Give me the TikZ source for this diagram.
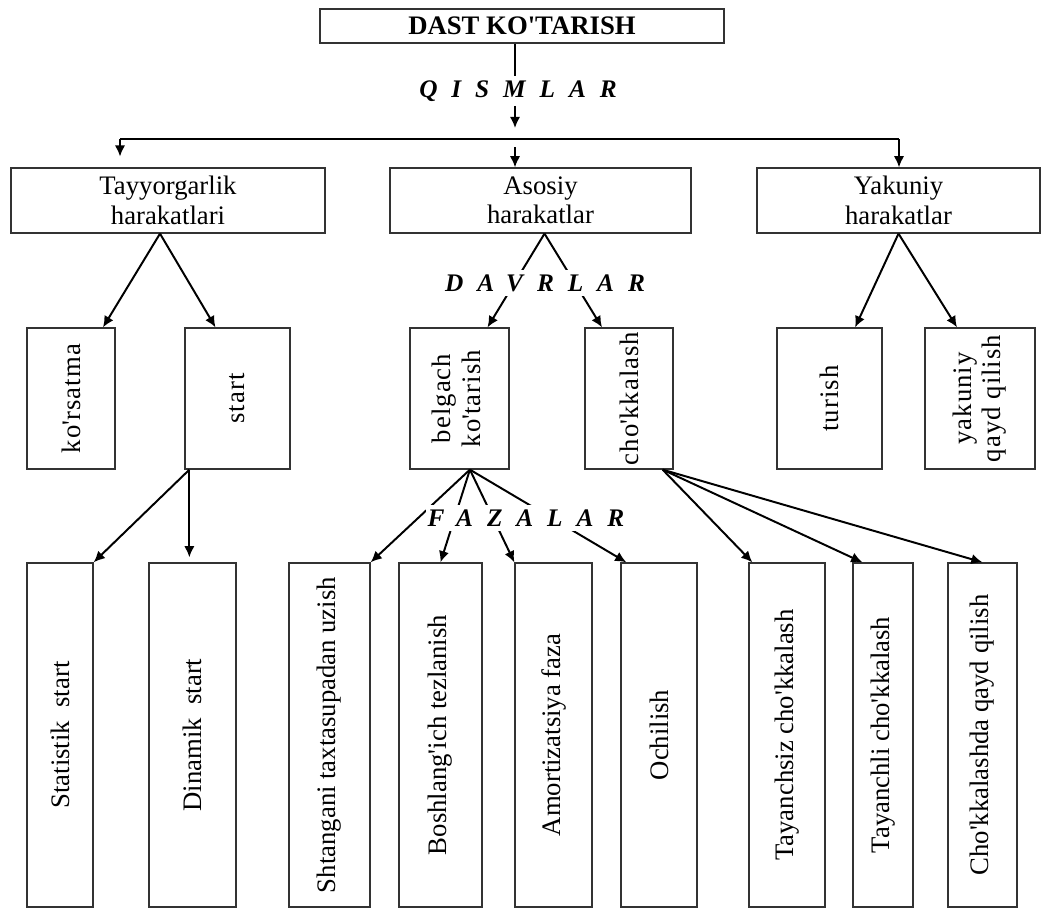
\documentclass[tikz,border=0pt]{standalone}
\usepackage{fontspec}
\setmainfont{Liberation Serif}
\newfontfamily\spacedfont{Liberation Serif}[LetterSpace=55]
\newfontfamily\widefont{Liberation Serif}[LetterSpace=4]
\usepackage{graphicx}
\usetikzlibrary{arrows.meta}

\begin{document}
\begin{tikzpicture}[x=0.025cm, y=-0.025cm, >={Latex[length=0.28cm,width=0.26cm]},
  box/.style={draw=black!80, line width=0.9pt, inner sep=0pt, align=center, font=\fontsize{19}{21}\selectfont},
  wbox/.style={box, font=\widefont\fontsize{19}{21}\selectfont},
  link/.style={->, line width=1.4pt},
  tag/.style={font=\spacedfont\bfseries\itshape\fontsize{18}{18}\selectfont, fill=white, inner xsep=1pt, inner ysep=3pt}]
\useasboundingbox (0,0) rectangle (1044,908);
%top
\node[box, minimum width=10.1cm, minimum height=0.85cm] (top) at (522,26) {\bfseries DAST KO\textquotesingle TARISH};
\node[tag] (qism) at (518,91) {QISMLAR};
\coordinate (qtip) at (515,128);
\draw[line width=1.4pt] (top.south -| qtip) -- (qtip |- qism.north);
\draw[link] (qtip |- qism.south) -- (qtip);
%parts
\node[box, minimum width=7.85cm, minimum height=1.625cm] (tay) at (168,200.5) {Tayyorgarlik\\harakatlari};
\node[box, minimum width=7.525cm, minimum height=1.625cm] (aso) at (540.5,200.5) {Asosiy\\harakatlar};
\node[box, minimum width=7.075cm, minimum height=1.625cm] (yak) at (898.5,200.5) {Yakuniy\\harakatlar};
\coordinate (j1) at (120,139);
\coordinate (j2) at (515,147);
\coordinate (j3) at (899,139);
\draw[line width=1.4pt] (j1) -- (j3);
\draw[link, shorten >=0.27cm] (j1) -- (j1 |- tay.north);
\draw[link] (j2) -- (j2 |- aso.north);
\draw[link] (j3) -- (j3 |- yak.north);
%periods
\node[wbox, minimum width=2.2cm, minimum height=3.525cm] (kor) at (71,398.5) {\rotatebox{90}{ko\textquotesingle rsatma}};
\node[wbox, minimum width=2.625cm, minimum height=3.525cm] (sta) at (237.5,398.5) {\rotatebox{90}{start}};
\node[wbox, minimum width=2.475cm, minimum height=3.525cm] (bel) at (459.5,398.5) {\rotatebox{90}{\begin{tabular}{@{}c@{}}belgach\\ko\textquotesingle tarish\end{tabular}}};
\node[wbox, minimum width=2.2cm, minimum height=3.525cm] (cho) at (629,398.5) {\rotatebox{90}{cho\textquotesingle kkalash}};
\node[wbox, minimum width=2.625cm, minimum height=3.525cm] (tur) at (829.5,398.5) {\rotatebox{90}{turish}};
\node[wbox, minimum width=2.75cm, minimum height=3.525cm] (yqq) at (980,398.5) {\rotatebox{90}{\begin{tabular}{@{}c@{}}yakuniy\\qayd qilish\end{tabular}}};
\draw[link] ([xshift=-0.2cm]tay.south) -- ([xshift=0.8cm]kor.north);
\draw[link] ([xshift=-0.2cm]tay.south) -- ([xshift=-0.55cm]sta.north);
\draw[link] ([xshift=0.1cm]aso.south) -- ([xshift=0.7cm]bel.north);
\draw[link] ([xshift=0.1cm]aso.south) -- ([xshift=-0.675cm]cho.north);
\draw[link] (yak.south) -- ([xshift=0.64cm]tur.north);
\draw[link] (yak.south) -- ([xshift=-0.575cm]yqq.north);
\node[tag] (davr) at (545,283) {DAVRLAR};
%phases
\node[box, minimum width=1.65cm, minimum height=8.6cm] (stat) at (60,735) {\rotatebox{90}{Statistik\ \ start}};
\node[box, minimum width=2.175cm, minimum height=8.6cm] (din) at (192.5,735) {\rotatebox{90}{Dinamik\ \ start}};
\node[box, minimum width=2.025cm, minimum height=8.6cm] (sht) at (329.5,735) {\rotatebox{90}{Shtangani taxtasupadan uzish}};
\node[box, minimum width=2.075cm, minimum height=8.6cm] (bos) at (440.5,735) {\rotatebox{90}{Boshlang\textquotesingle ich tezlanish}};
\node[box, minimum width=1.925cm, minimum height=8.6cm] (amo) at (553.5,735) {\rotatebox{90}{Amortizatsiya faza}};
\node[box, minimum width=1.9cm, minimum height=8.6cm] (och) at (659,735) {\rotatebox{90}{Ochilish}};
\node[box, minimum width=1.9cm, minimum height=8.6cm] (tsz) at (787,735) {\rotatebox{90}{Tayanchsiz cho\textquotesingle kkalash}};
\node[box, minimum width=1.5cm, minimum height=8.6cm] (tli) at (883,735) {\rotatebox{90}{Tayanchli cho\textquotesingle kkalash}};
\node[box, minimum width=1.725cm, minimum height=8.6cm] (ckq) at (982.5,735) {\rotatebox{90}{Cho\textquotesingle kkalashda qayd qilish}};
\coordinate (ssrc) at ([xshift=0.125cm]sta.south west);
\coordinate (bsrc) at ([xshift=0.26cm]bel.south);
\coordinate (csrc) at ([xshift=-0.275cm]cho.south east);
\draw[link] (ssrc) -- (stat.north east);
\draw[link, shorten >=0.125cm] (ssrc) -- (ssrc |- din.north);
\draw[link] (bsrc) -- (sht.north east);
\draw[link] (bsrc) -- (bos.north);
\draw[link] (bsrc) -- (amo.north west);
\draw[link] (bsrc) -- ([xshift=0.15cm]och.north west);
\draw[link] (csrc) -- ([xshift=0.1cm]tsz.north west);
\draw[link] (csrc) -- ([xshift=0.25cm]tli.north west);
\draw[link] (csrc) -- (ckq.north);
\node[tag] (faza) at (526,518) {FAZALAR};
\end{tikzpicture}
\end{document}
